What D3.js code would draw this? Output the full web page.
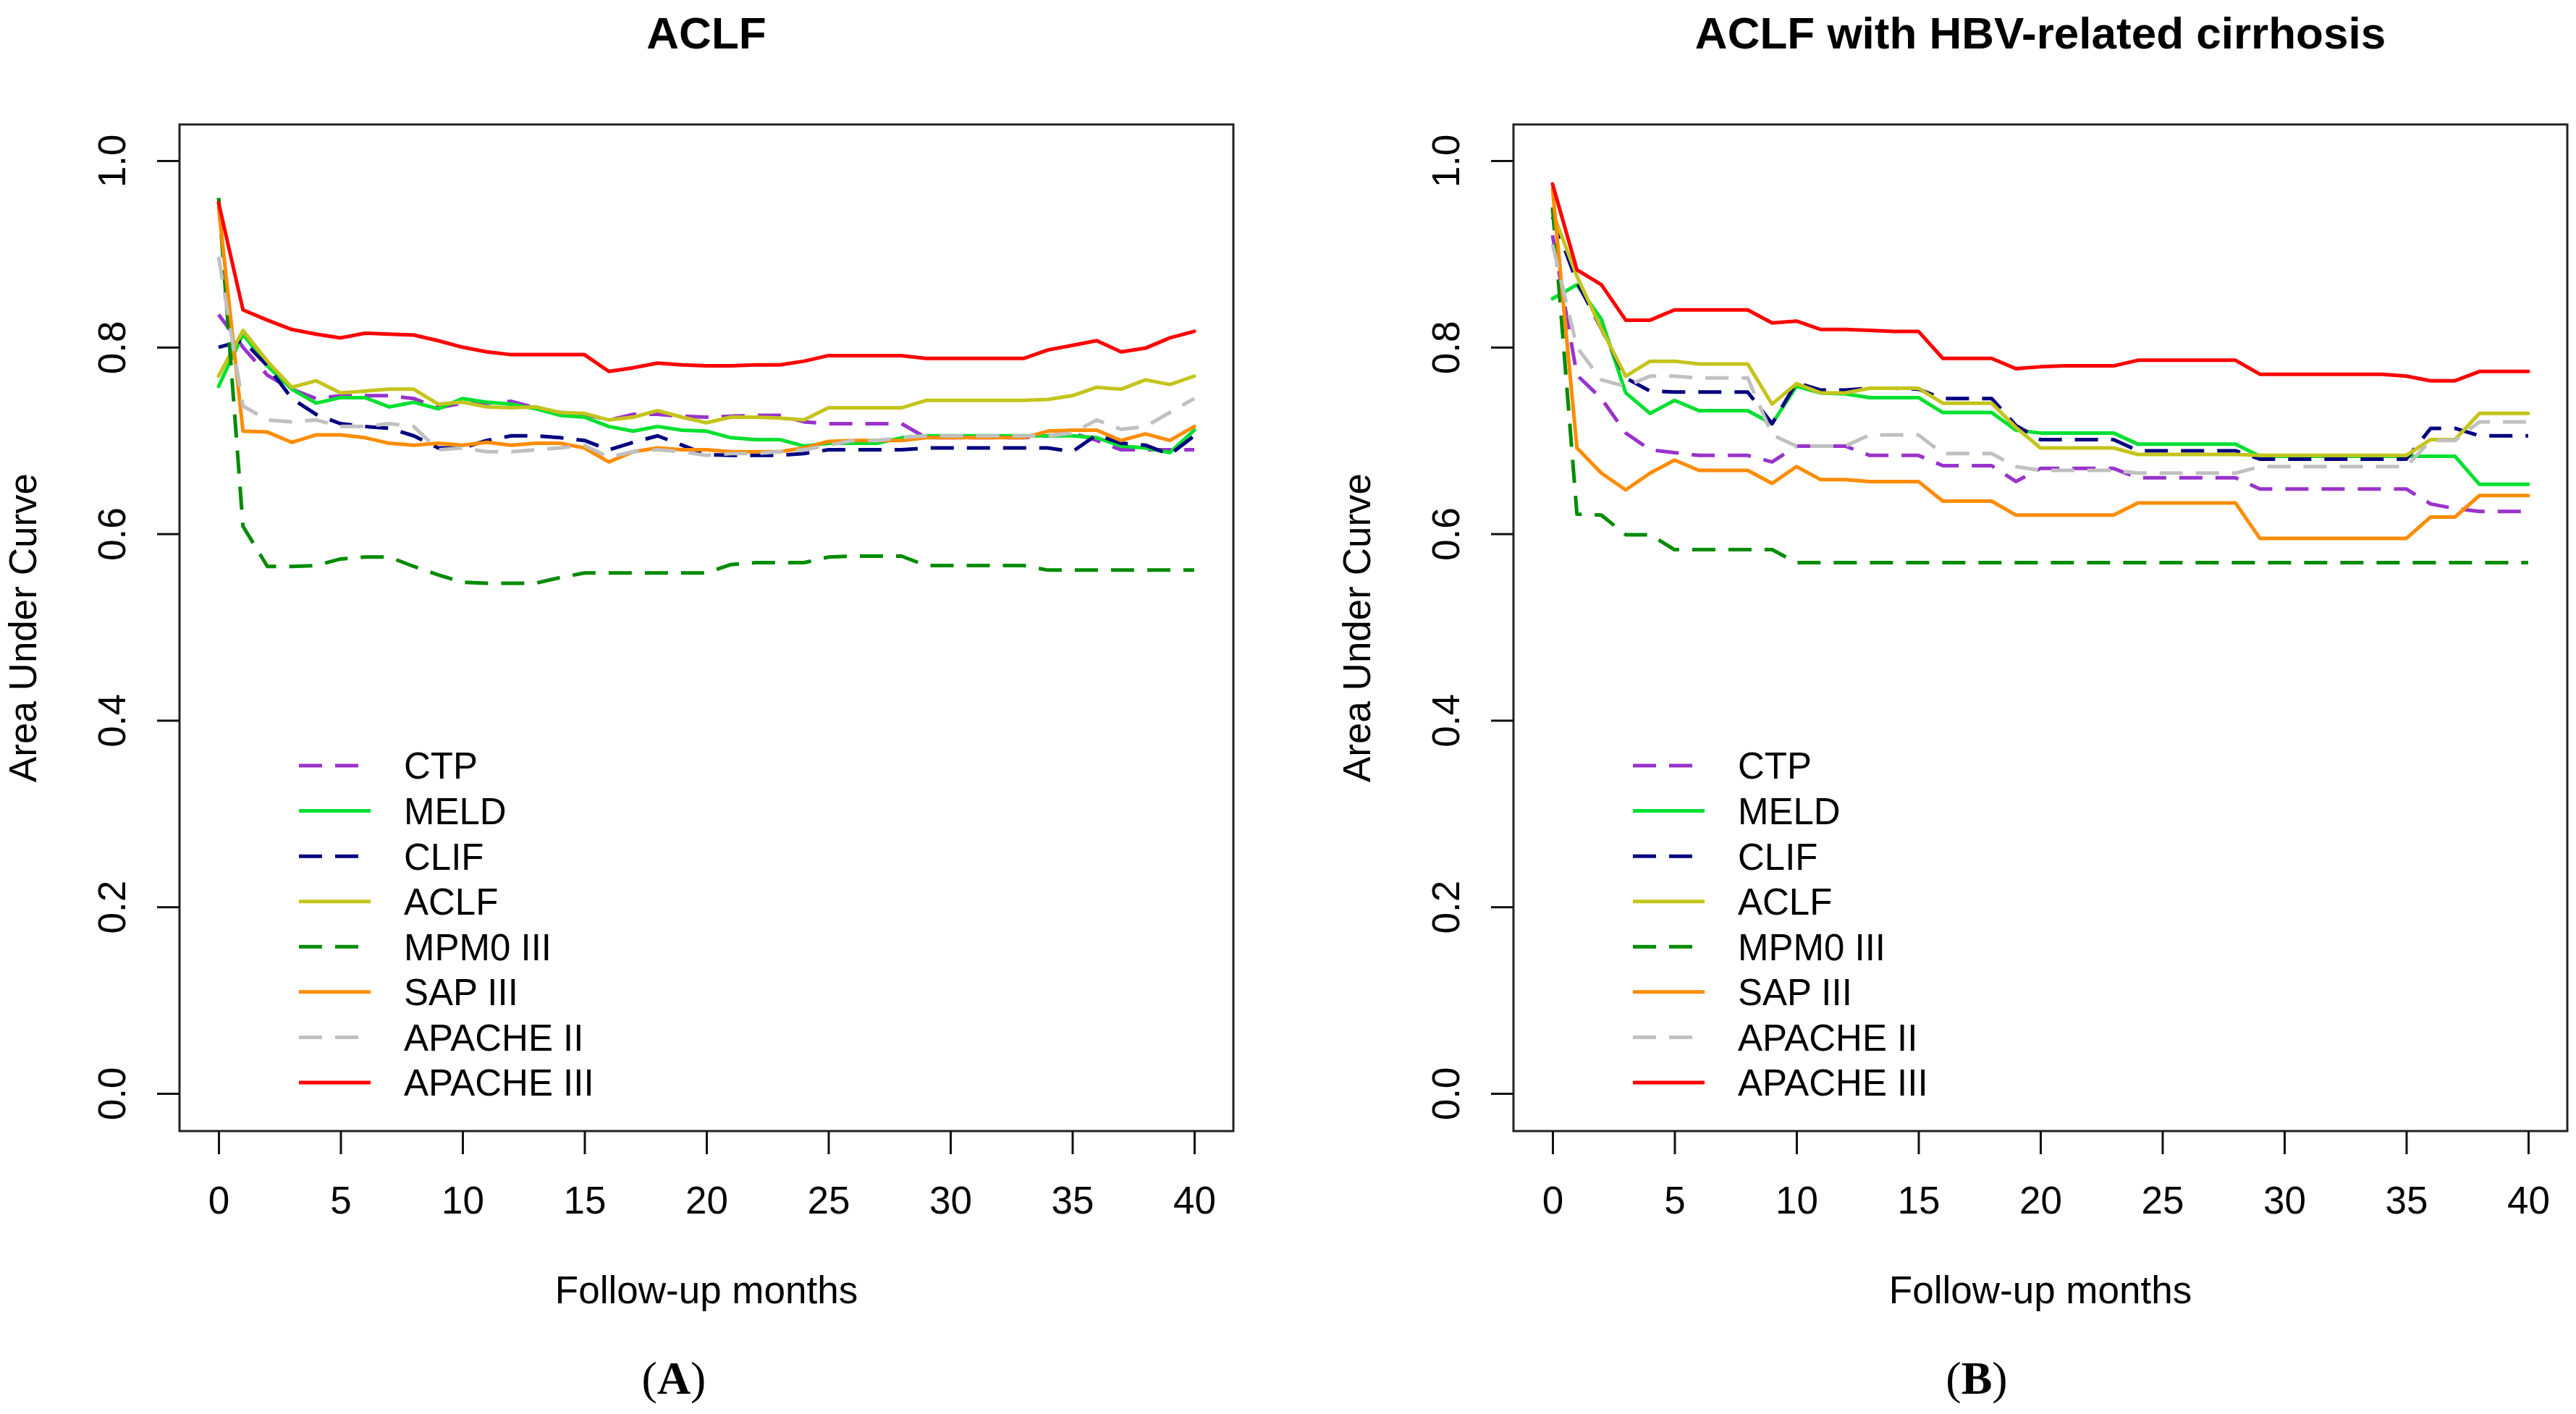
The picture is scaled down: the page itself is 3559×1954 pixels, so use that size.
<!DOCTYPE html>
<html>
<head>
<meta charset="utf-8">
<script src="https://cdn.jsdelivr.net/npm/d3@7/dist/d3.min.js"></script>
<style>
  html, body { margin: 0; padding: 0; background: #fff; }
  text { font-family: "Liberation Sans", Arial, sans-serif; fill: #000; }
</style>
</head>
<body>
<svg id="chart"></svg>
<script>
// follow-up months (shared x values)
var months = [0,1,2,3,4,5,6,7,8,9,10,11,12,13,14,15,16,17,18,19,20,
              21,22,23,24,25,26,27,28,29,30,31,32,33,34,35,36,37,38,39,40]
var xTicks = [0,5,10,15,20,25,30,35,40]
var yTicks = [0,0.2,0.4,0.6,0.8,1.0]

var seriesNames = ["CTP", "MELD", "CLIF", "ACLF", "MPM0 III", "SAP III", "APACHE II", "APACHE III"]
var seriesColors = ["#9933cc", "#00e030", "#000080", "#c4c41c", "#008b00", "#ff8c00", "#c0c0c0", "#ff0000"]
var seriesDashed = [true, false, true, false, true, false, true, false]

// panel A : ACLF
var ctpA = [0.835,0.80,0.77,0.755,0.745,0.748,0.748,0.748,0.745,0.735,
            0.74,0.74,0.742,0.735,0.73,0.728,0.722,0.728,0.728,0.726,
            0.725,0.726,0.727,0.727,0.72,0.718,0.718,0.718,0.718,0.703,
            0.703,0.703,0.703,0.703,0.705,0.708,0.70,0.69,0.69,0.69,0.69]
var meldA = [0.758,0.814,0.78,0.755,0.74,0.746,0.746,0.736,0.741,0.734,
             0.745,0.741,0.739,0.734,0.727,0.725,0.715,0.71,0.715,0.711,
             0.71,0.703,0.701,0.701,0.694,0.697,0.697,0.697,0.703,0.705,
             0.705,0.705,0.705,0.705,0.705,0.705,0.703,0.694,0.692,0.687,0.711]
var clifA = [0.80,0.807,0.78,0.745,0.728,0.718,0.715,0.713,0.705,0.692,
             0.692,0.70,0.705,0.705,0.703,0.70,0.69,0.698,0.705,0.695,
             0.685,0.684,0.684,0.684,0.686,0.69,0.69,0.69,0.69,0.692,
             0.692,0.692,0.692,0.692,0.692,0.688,0.706,0.697,0.695,0.685,0.705]
var aclfA = [0.769,0.818,0.785,0.757,0.764,0.751,0.753,0.755,0.755,0.739,
             0.741,0.736,0.735,0.736,0.73,0.729,0.722,0.725,0.732,0.725,
             0.719,0.725,0.725,0.724,0.722,0.735,0.735,0.735,0.735,0.743,
             0.743,0.743,0.743,0.743,0.744,0.748,0.757,0.755,0.765,0.76,0.769]
var mpmA = [0.96,0.608,0.565,0.565,0.566,0.573,0.575,0.575,0.565,0.556,
            0.548,0.547,0.547,0.547,0.553,0.558,0.558,0.558,0.558,0.558,
            0.558,0.567,0.569,0.569,0.569,0.575,0.576,0.576,0.576,0.566,
            0.566,0.566,0.566,0.566,0.561,0.561,0.561,0.561,0.561,0.561,0.561]
var sapA = [0.95,0.71,0.709,0.698,0.706,0.706,0.703,0.697,0.695,0.697,
            0.695,0.698,0.695,0.697,0.697,0.692,0.677,0.688,0.692,0.69,
            0.69,0.688,0.688,0.688,0.692,0.699,0.70,0.70,0.70,0.703,
            0.703,0.703,0.703,0.703,0.71,0.711,0.711,0.70,0.707,0.70,0.715]
var apache2A = [0.897,0.737,0.722,0.72,0.722,0.715,0.715,0.718,0.715,0.69,
                0.692,0.688,0.688,0.69,0.692,0.695,0.682,0.688,0.69,0.688,
                0.684,0.686,0.686,0.688,0.69,0.695,0.70,0.70,0.703,0.705,
                0.705,0.705,0.705,0.705,0.705,0.708,0.722,0.712,0.715,0.73,0.745]
var apache3A = [0.955,0.84,0.829,0.819,0.814,0.81,0.815,0.814,0.813,0.807,
                0.80,0.795,0.792,0.792,0.792,0.792,0.774,0.778,0.783,0.781,
                0.78,0.78,0.781,0.781,0.785,0.791,0.791,0.791,0.791,0.788,
                0.788,0.788,0.788,0.788,0.797,0.802,0.807,0.795,0.799,0.81,0.817]

// panel B : ACLF with HBV-related cirrhosis
var ctpB = [0.92,0.77,0.745,0.708,0.69,0.687,0.684,0.684,0.684,0.677,
            0.694,0.694,0.694,0.684,0.684,0.684,0.673,0.673,0.673,0.656,
            0.67,0.67,0.67,0.67,0.66,0.66,0.66,0.66,0.66,0.648,
            0.648,0.648,0.648,0.648,0.648,0.648,0.632,0.627,0.624,0.624,0.624]
var meldB = [0.852,0.867,0.83,0.751,0.729,0.743,0.732,0.732,0.732,0.718,
             0.758,0.751,0.75,0.746,0.746,0.746,0.73,0.73,0.73,0.711,
             0.708,0.708,0.708,0.708,0.696,0.696,0.696,0.696,0.696,0.683,
             0.683,0.683,0.683,0.683,0.683,0.683,0.683,0.683,0.653,0.653,0.653]
var clifB = [0.94,0.87,0.82,0.767,0.753,0.752,0.752,0.752,0.752,0.718,
             0.762,0.754,0.754,0.756,0.756,0.755,0.745,0.745,0.745,0.716,
             0.701,0.701,0.701,0.701,0.689,0.689,0.689,0.689,0.689,0.68,
             0.68,0.68,0.68,0.68,0.68,0.68,0.713,0.713,0.705,0.705,0.705]
var aclfB = [0.945,0.876,0.82,0.769,0.785,0.785,0.782,0.782,0.782,0.739,
             0.761,0.751,0.751,0.756,0.756,0.756,0.74,0.74,0.74,0.714,
             0.692,0.692,0.692,0.692,0.685,0.685,0.685,0.685,0.685,0.684,
             0.684,0.684,0.684,0.684,0.684,0.684,0.701,0.701,0.729,0.729,0.729]
var mpmB = [0.95,0.621,0.62,0.599,0.599,0.583,0.583,0.583,0.583,0.583,
            0.569,0.569,0.569,0.569,0.569,0.569,0.569,0.569,0.569,0.569,
            0.569,0.569,0.569,0.569,0.569,0.569,0.569,0.569,0.569,0.569,
            0.569,0.569,0.569,0.569,0.569,0.569,0.569,0.569,0.569,0.569,0.569]
var sapB = [0.97,0.692,0.665,0.647,0.665,0.679,0.668,0.668,0.668,0.654,
            0.672,0.658,0.658,0.656,0.656,0.656,0.635,0.635,0.635,0.62,
            0.62,0.62,0.62,0.62,0.633,0.633,0.633,0.633,0.633,0.595,
            0.595,0.595,0.595,0.595,0.595,0.595,0.618,0.618,0.641,0.641,0.641]
var apache2B = [0.91,0.80,0.765,0.758,0.769,0.769,0.767,0.767,0.767,0.706,
                0.694,0.694,0.694,0.706,0.706,0.706,0.686,0.686,0.686,0.672,
                0.668,0.668,0.668,0.668,0.665,0.665,0.665,0.665,0.665,0.672,
                0.672,0.672,0.672,0.672,0.672,0.672,0.70,0.70,0.72,0.72,0.72]
var apache3B = [0.975,0.883,0.867,0.829,0.829,0.84,0.84,0.84,0.84,0.826,
                0.828,0.819,0.819,0.818,0.817,0.817,0.788,0.788,0.788,0.777,
                0.779,0.78,0.78,0.78,0.786,0.786,0.786,0.786,0.786,0.771,
                0.771,0.771,0.771,0.771,0.771,0.769,0.764,0.764,0.774,0.774,0.774]

var panelA = [ctpA, meldA, clifA, aclfA, mpmA, sapA, apache2A, apache3A]
var panelB = [ctpB, meldB, clifB, aclfB, mpmB, sapB, apache2B, apache3B]

var W = 3559, H = 1954
var svg = d3.select("#chart").attr("width", W).attr("height", H)
svg.append("rect").attr("width", W).attr("height", H).attr("fill", "#fff")

var box = { left: 248, right: 1704, top: 172, bottom: 1563 }

var x = d3.scaleLinear().domain([0, 40]).range([302, 1650])
var y = d3.scaleLinear().domain([0, 1]).range([1511, 222])

function drawPanel(offsetX, title, values, letter, letterX) {
  var g = svg.append("g").attr("transform", "translate(" + offsetX + ",0)")

  // lines, drawn in legend order
  var line = d3.line()
    .x(function(d, i) { return x(months[i]) })
    .y(function(d) { return y(d) })

  g.selectAll(".series")
    .data(values)
    .enter()
    .append("path")
    .attr("d", function(d) { return line(d) })
    .attr("fill", "none")
    .attr("stroke", function(d, i) { return seriesColors[i] })
    .attr("stroke-width", 5)
    .attr("stroke-linejoin", "round")
    .attr("stroke-linecap", function(d, i) { return seriesDashed[i] ? "butt" : "round" })
    .attr("stroke-dasharray", function(d, i) { return seriesDashed[i] ? "32,18" : null })

  // plot frame
  g.append("rect")
    .attr("x", box.left).attr("y", box.top)
    .attr("width", box.right - box.left).attr("height", box.bottom - box.top)
    .attr("fill", "none").attr("stroke", "#222").attr("stroke-width", 3)

  // x axis
  var xAxis = g.append("g")
    .attr("transform", "translate(0," + box.bottom + ")")
    .call(d3.axisBottom(x).tickValues(xTicks).tickSize(32).tickPadding(44))
  xAxis.select(".domain").remove()
  xAxis.selectAll("line").attr("stroke", "#111").attr("stroke-width", 3)
  xAxis.selectAll("text")
    .style("font-family", "'Liberation Sans', Arial, sans-serif")
    .style("font-size", "53px").attr("fill", "#000")

  // y axis, labels rotated like R's default
  var yAxis = g.append("g")
    .attr("transform", "translate(" + box.left + ",0)")
    .call(d3.axisLeft(y).tickValues(yTicks).tickSize(31).tickFormat(d3.format(".1f")))
  yAxis.select(".domain").remove()
  yAxis.selectAll("line").attr("stroke", "#111").attr("stroke-width", 3)
  yAxis.selectAll("text")
    .attr("x", null).attr("dy", null)
    .attr("text-anchor", "middle")
    .attr("transform", "translate(-75,0) rotate(-90)")
    .style("font-family", "'Liberation Sans', Arial, sans-serif")
    .style("font-size", "53px").attr("fill", "#000")

  // titles and axis labels
  g.append("text")
    .attr("x", (box.left + box.right) / 2).attr("y", 67)
    .attr("text-anchor", "middle")
    .style("font-size", "62px").style("font-weight", "bold")
    .text(title)

  g.append("text")
    .attr("transform", "translate(50," + (box.top + box.bottom) / 2 + ") rotate(-90)")
    .attr("text-anchor", "middle")
    .style("font-size", "53px")
    .text("Area Under Curve")

  g.append("text")
    .attr("x", (box.left + box.right) / 2).attr("y", 1801)
    .attr("text-anchor", "middle")
    .style("font-size", "53px")
    .text("Follow-up months")

  g.append("text")
    .attr("x", letterX).attr("y", 1926)
    .attr("text-anchor", "middle")
    .style("font-family", "'Liberation Serif', 'Times New Roman', serif")
    .style("font-size", "64px")
    .text("(")
    .append("tspan").style("font-weight", "bold").text(letter)
    .select(function() { return this.parentNode })
    .append("tspan").text(")")

  // legend
  var legendY = d3.scaleLinear().domain([0, 7]).range([1058, 1496])
  var lg = g.selectAll(".legend")
    .data(seriesNames)
    .enter()
    .append("g")
    .attr("transform", function(d, i) { return "translate(0," + legendY(i) + ")" })

  lg.append("line")
    .attr("x1", 413).attr("x2", 512)
    .attr("stroke", function(d, i) { return seriesColors[i] })
    .attr("stroke-width", 5)
    .attr("stroke-dasharray", function(d, i) { return seriesDashed[i] ? "32,18" : null })

  lg.append("text")
    .attr("x", 558).attr("dy", "0.36em")
    .style("font-size", "51px")
    .text(function(d) { return d })
}

drawPanel(0, "ACLF", panelA, "A", 931)
drawPanel(1843, "ACLF with HBV-related cirrhosis", panelB, "B", 2731 - 1843)
</script>
</body>
</html>
